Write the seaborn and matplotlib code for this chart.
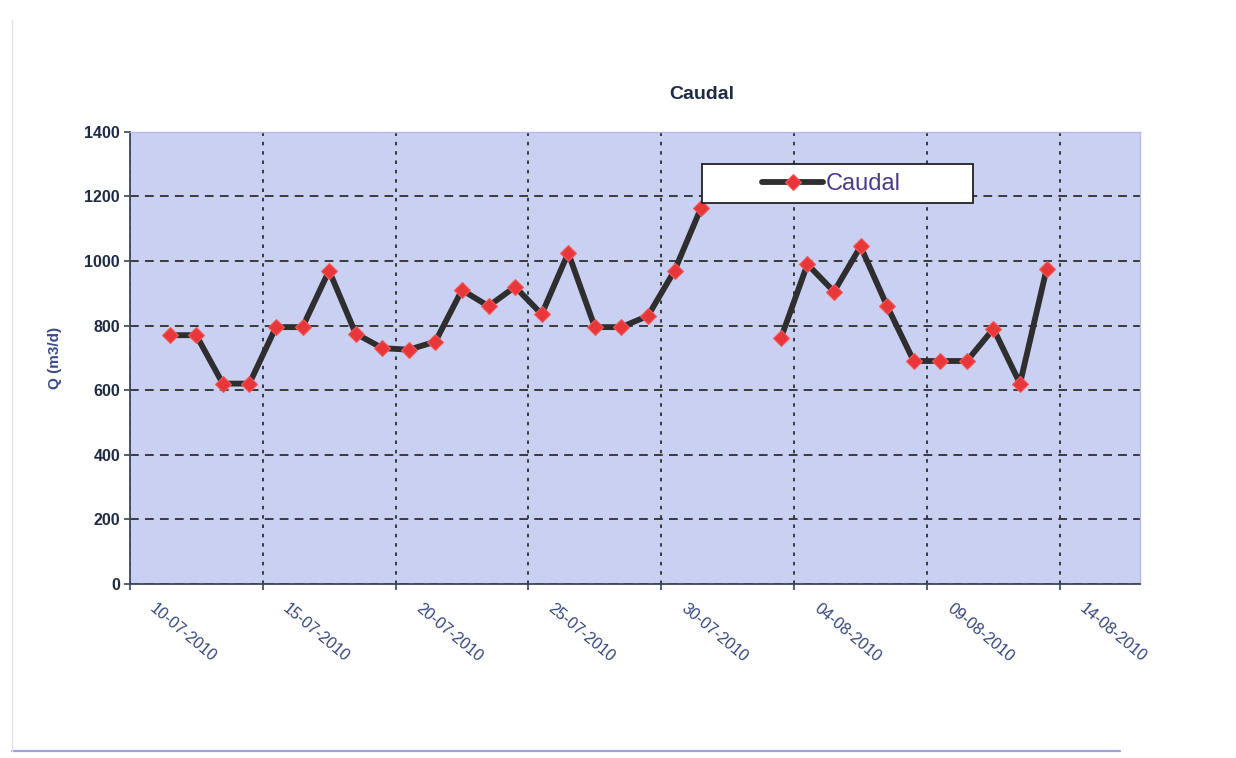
import pandas as pd
import numpy as np
import matplotlib.pyplot as plt
from matplotlib.lines import Line2D
from matplotlib.patches import Rectangle
from matplotlib.transforms import ScaledTranslation
import seaborn as sns

# lecturas diarias de caudal (m3/d); faltan el 01-08 y 02-08
fechas = ['2010-07-11', '2010-07-12', '2010-07-13', '2010-07-14', '2010-07-15',
          '2010-07-16', '2010-07-17', '2010-07-18', '2010-07-19', '2010-07-20',
          '2010-07-21', '2010-07-22', '2010-07-23', '2010-07-24', '2010-07-25',
          '2010-07-26', '2010-07-27', '2010-07-28', '2010-07-29', '2010-07-30',
          '2010-07-31',
          '2010-08-03', '2010-08-04', '2010-08-05', '2010-08-06', '2010-08-07',
          '2010-08-08', '2010-08-09', '2010-08-10', '2010-08-11', '2010-08-12',
          '2010-08-13']
caudal = [770, 770, 620, 620, 795, 795, 970, 775, 730, 725,
          750, 910, 860, 920, 835, 1025, 795, 795, 830, 970,
          1165,
          760, 990, 905, 1045, 860, 690, 690, 690, 790, 620,
          975]

# ejes
x_ticks = ['2010-07-10', '2010-07-15', '2010-07-20', '2010-07-25',
           '2010-07-30', '2010-08-04', '2010-08-09', '2010-08-14']
x_lim = ['2010-07-10', '2010-08-17']
y_ticks = [0, 200, 400, 600, 800, 1000, 1200, 1400]

df = pd.DataFrame({'fecha': pd.to_datetime(fechas), 'caudal': caudal})
# cada lectura se dibuja a mitad del día (como Excel, entre marcas)
df['x'] = df['fecha'] + pd.Timedelta(hours=12)
# tramo nuevo cuando faltan días -> el trazo se corta
df['tramo'] = (df['fecha'].diff().dt.days.fillna(1) > 1).cumsum()

sns.set_style('white')
plt.rcParams['font.family'] = ['Liberation Sans', 'DejaVu Sans']

fig = plt.figure(figsize=(12.36, 7.58), dpi=100)
ax = fig.add_axes([0.105, 0.230, 0.817, 0.596])
ax.set_facecolor('#c9d0f2')

sns.lineplot(data=df, x='x', y='caudal', units='tramo', estimator=None,
             color='#2e2e2e', linewidth=4.2, marker='D', markersize=8.5,
             markerfacecolor='#e8363a', markeredgecolor='#f25a5a',
             markeredgewidth=0.8, ax=ax)

ax.set_xlim(pd.Timestamp(x_lim[0]), pd.Timestamp(x_lim[1]))
ax.set_ylim(0, 1400)
ax.set_yticks(y_ticks)
ax.set_yticklabels([str(v) for v in y_ticks], fontsize=11.5,
                   fontweight='bold', color='#1f2a44')
ax.set_xticks(pd.to_datetime(x_ticks))
ax.set_xticklabels(pd.to_datetime(x_ticks).strftime('%d-%m-%Y'),
                   rotation=-40, ha='left', va='top', rotation_mode='anchor',
                   fontsize=11.5, color='#34447e')

ax.tick_params(axis='y', direction='out', length=4, width=1.2,
               color='#3c4660', pad=3, left=True)
ax.tick_params(axis='x', direction='out', length=4, width=1.2,
               color='#3c4660', pad=8, bottom=True)

# desplazar las etiquetas de fecha a la derecha de su marca
for lab in ax.get_xticklabels():
    lab.set_transform(lab.get_transform()
                      + ScaledTranslation(0.27, 0, fig.dpi_scale_trans))

# cuadrícula discontinua
ax.set_axisbelow(True)
ax.yaxis.grid(True, color='#3a3a3a', linewidth=1.4, linestyle=(0, (4.5, 3.2)))
ax.xaxis.grid(True, color='#3a3a3a', linewidth=1.4, linestyle=(0, (1.8, 3)))

for s in ['left', 'bottom']:
    ax.spines[s].set_color('#3c4660')
    ax.spines[s].set_linewidth(1.3)
for s in ['top', 'right']:
    ax.spines[s].set_color('#b3bbe6')
    ax.spines[s].set_linewidth(1.0)

ax.set_xlabel('')
ax.set_ylabel('Q (m3/d)', fontsize=11, fontweight='bold', color='#3a4a8c')
ax.yaxis.set_label_coords(-0.067, 0.5)

fig.text(0.568, 0.875, 'Caudal', fontsize=14, fontweight='bold',
         color='#1f2a44', ha='center', va='center')

# leyenda en caja blanca
ax.add_patch(Rectangle((0.567, 0.842), 0.268, 0.086, transform=ax.transAxes,
                       facecolor='white', edgecolor='#222222', linewidth=1.3,
                       zorder=5))
leg = ax.legend(handles=[ax.lines[0]], labels=['Caudal'], frameon=False,
                loc='center left', bbox_to_anchor=(0.626, 0.885),
                borderpad=0, borderaxespad=0, handlelength=2.6,
                handletextpad=0.1, fontsize=17, labelcolor='#4a3c8c')
leg.set_zorder(6)

# marco del escaneo
fig.add_artist(Line2D([12 / 1236, 1120 / 1236], [1 - 751 / 758] * 2,
                      transform=fig.transFigure, color='#9ea3dc', lw=1.6))
fig.add_artist(Line2D([12 / 1236] * 2, [1 - 751 / 758, 1 - 20 / 758],
                      transform=fig.transFigure, color='#e2e4f4', lw=1.0))

fig.savefig('out.png', dpi=100, facecolor='white')
